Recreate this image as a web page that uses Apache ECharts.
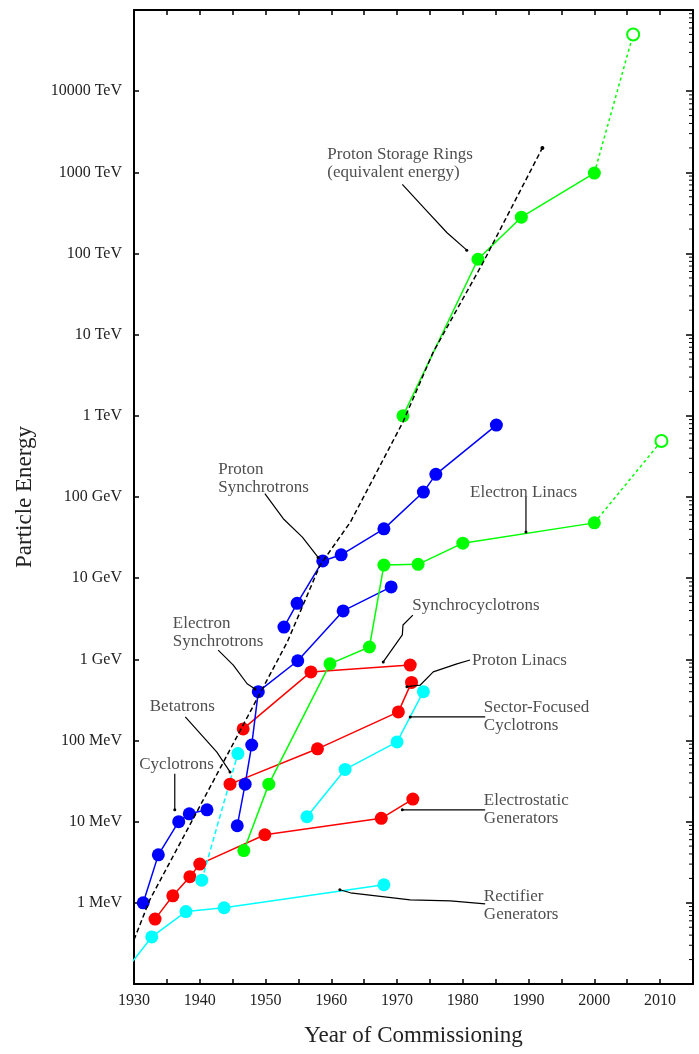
<!DOCTYPE html>
<html><head><meta charset="utf-8">
<script src="https://cdn.jsdelivr.net/npm/echarts@6/dist/echarts.min.js"></script>
<style>html,body{margin:0;padding:0;background:#fff}#chart{width:699px;height:1054px}</style>
</head><body><div id="chart"></div>
<script>
// ---- Data (energies in MeV) ----
const yearTicks = [1930, 1940, 1950, 1960, 1970, 1980, 1990, 2000, 2010];
const energyTickLabels = ['1 MeV','10 MeV','100 MeV','1 GeV','10 GeV','100 GeV','1 TeV','10 TeV','100 TeV','1000 TeV','10000 TeV'];

const rectifierYears = [1929.8, 1932.7, 1937.9, 1943.7, 1968.0];
const rectifierMeV   = [0.19, 0.38, 0.78, 0.87, 1.67];

const electrostaticYears = [1933.2, 1935.9, 1938.5, 1940.0, 1949.9, 1967.6, 1972.4];
const electrostaticMeV   = [0.63, 1.22, 2.1, 3.0, 6.9, 11, 19];

const cyclotronYears = [1931.4, 1933.7, 1936.8, 1938.4, 1941.1];
const cyclotronMeV   = [1.0, 3.9, 10, 12.5, 14];

const betatronYears = [1940.3, 1945.8];
const betatronMeV   = [1.9, 69];

const sectorCycYears = [1956.3, 1962.1, 1970.0, 1974.0];
const sectorCycMeV   = [11.5, 44, 96, 400];

const synchrocycYears = [1946.6, 1956.9, 1972.0];
const synchrocycMeV   = [139, 700, 850];

const protonLinacYears = [1944.6, 1957.9, 1970.2, 1972.2];
const protonLinacMeV   = [29, 79, 225, 520];

const electronSynchYears = [1945.7, 1946.9, 1947.9, 1948.9, 1954.9, 1961.8, 1969.1];
const electronSynchMeV   = [8.9, 29, 88, 400, 960, 3950, 7800];

const protonSynchYears = [1952.8, 1954.8, 1958.7, 1961.5, 1968.0, 1974.0, 1975.9, 1985.1];
const protonSynchMeV   = [2500, 4900, 16300, 19400, 40500, 115000, 190000, 770000];

const electronLinacYears = [1946.7, 1950.5, 1959.8, 1965.8, 1968.0, 1973.2, 1980.0, 2000.0];
const electronLinacMeV   = [4.4, 29, 880, 1420, 14500, 14800, 27000, 48000];
const electronLinacFutureYears = [2000.0, 2010.2];
const electronLinacFutureMeV   = [48000, 490000];

const storageRingYears = [1970.9, 1982.3, 1988.9, 2000.0];
const storageRingMeV   = [1.0e6, 8.5e7, 2.8e8, 9.8e8];
const storageRingFutureYears = [2000.0, 2005.9];
const storageRingFutureMeV   = [9.8e8, 5.0e10];

const trendYears = [1930, 1932.4, 1942.8, 1953.3, 1958.3, 1962.9, 1970.9, 1975.5, 1983.1, 1992.1];
const trendMeV   = [0.35, 1.09, 41, 1630, 14500, 49000, 8.4e5, 6.1e6, 7.8e7, 2.0e9];

// annotation texts and their anchor (left, middle) in data coordinates
const annotationTexts = ['Proton Storage Rings\n(equivalent energy)', 'Proton\nSynchrotrons', 'Electron Linacs',
  'Electron\nSynchrotrons', 'Synchrocyclotrons', 'Proton Linacs', 'Sector-Focused\nCyclotrons',
  'Betatrons', 'Cyclotrons', 'Electrostatic\nGenerators', 'Rectifier\nGenerators'];
const annotationYears = [1959.4, 1942.8, 1981.1, 1935.9, 1972.3, 1981.4, 1983.2, 1932.4, 1930.8, 1983.2, 1983.2];
const annotationMeV   = [1.3e9, 1.7e5, 1.15e5, 2130, 4550, 980, 195, 260, 51, 14, 0.92];

// leader lines
const leaderYears = [
  [1970.8, 1974.3, 1977.6, 1980.6],
  [1949.9, 1952.7, 1955.6, 1958.0],
  [1989.6, 1989.6],
  [1942.8, 1945.1, 1947.2, 1948.4],
  [1972.4, 1970.9, 1970.8, 1967.9],
  [1981.1, 1979.1, 1975.5, 1973.5, 1971.5],
  [1983.4, 1975.8, 1972.0],
  [1937.8, 1942.6, 1944.6],
  [1936.2, 1936.2],
  [1983.4, 1970.8],
  [1983.4, 1978.1, 1972.0, 1962.9, 1961.3]
];
const leaderMeV = [
  [7.1e8, 3.5e8, 1.8e8, 1.1e8],
  [1.1e5, 5.4e4, 3.2e4, 1.8e4],
  [1.0e5, 3.7e4],
  [1300, 850, 500, 430],
  [3500, 2650, 2000, 930],
  [980, 880, 700, 480, 460],
  [195, 195, 195],
  [195, 72, 41],
  [39, 14],
  [14, 14],
  [0.97, 1.06, 1.09, 1.33, 1.45]
];

const rightMinorTickValues = [];
for (let k = -1; k <= 10; k++) for (let m = 2; m <= 9; m++) rightMinorTickValues.push(m * Math.pow(10, k));

// ---- Chart ----
const FONT = 'Liberation Serif';
const BLUE = '#0000ff', RED = '#ff0000', GREEN = '#00ff00', CYAN = '#00ffff';
const pairs = (xs, ys) => xs.map((x, i) => [x, ys[i]]);

function dataSeries(name, xs, ys, color, dash) {
  return { type: 'line', name, data: pairs(xs, ys), symbol: 'circle', symbolSize: 13,
    itemStyle: { color }, lineStyle: { color, width: 1.5, type: dash || 'solid' }, z: 3 };
}
function futureSeries(name, xs, ys, color) {
  return { type: 'line', name, z: 3,
    data: xs.map((x, i) => ({ value: [x, ys[i]], symbol: i === xs.length - 1 ? 'emptyCircle' : 'none' })),
    symbolSize: 12, itemStyle: { color, borderColor: color, borderWidth: 1.5 },
    lineStyle: { color, width: 1.5, type: [3, 3] } };
}

const series = [
  dataSeries('Rectifier Generators', rectifierYears, rectifierMeV, CYAN),
  dataSeries('Electrostatic Generators', electrostaticYears, electrostaticMeV, RED),
  dataSeries('Cyclotrons', cyclotronYears, cyclotronMeV, BLUE),
  dataSeries('Betatrons', betatronYears, betatronMeV, CYAN, [5, 3]),
  dataSeries('Sector-Focused Cyclotrons', sectorCycYears, sectorCycMeV, CYAN),
  dataSeries('Synchrocyclotrons', synchrocycYears, synchrocycMeV, RED),
  dataSeries('Proton Linacs', protonLinacYears, protonLinacMeV, RED),
  dataSeries('Electron Synchrotrons', electronSynchYears, electronSynchMeV, BLUE),
  dataSeries('Proton Synchrotrons', protonSynchYears, protonSynchMeV, BLUE),
  dataSeries('Electron Linacs', electronLinacYears, electronLinacMeV, GREEN),
  futureSeries('Electron Linacs (future)', electronLinacFutureYears, electronLinacFutureMeV, GREEN),
  dataSeries('Proton Storage Rings', storageRingYears, storageRingMeV, GREEN),
  futureSeries('Proton Storage Rings (future)', storageRingFutureYears, storageRingFutureMeV, GREEN),
  { type: 'line', name: 'trend', z: 4,
    data: trendYears.map((x, i) => ({ value: [x, trendMeV[i]], symbol: i === trendYears.length - 1 ? 'circle' : 'none' })),
    symbolSize: 4, itemStyle: { color: '#000' }, lineStyle: { color: '#000', width: 1.5, type: [5, 3] } }
];

leaderYears.forEach((xs, j) => {
  series.push({ type: 'line', z: 5, silent: true,
    data: xs.map((x, i) => ({ value: [x, leaderMeV[j][i]], symbol: i === xs.length - 1 ? 'circle' : 'none' })),
    symbolSize: 3, itemStyle: { color: '#000' }, lineStyle: { color: '#000', width: 1.2 } });
});

series.push({ type: 'scatter', z: 6, symbolSize: 0, silent: true,
  data: annotationTexts.map((t, i) => ({ value: [annotationYears[i], annotationMeV[i]], label: { formatter: t } })),
  label: { show: true, position: 'right', distance: 0, align: 'left', verticalAlign: 'middle',
    fontFamily: FONT, fontSize: 17, lineHeight: 18, color: '#222' } });

series.push({ type: 'custom', z: 6, silent: true, clip: false,
  data: rightMinorTickValues.map(v => [2015, v]),
  encode: { x: 0, y: 1 },
  renderItem: (params, api) => {
    const p = api.coord([api.value(0), api.value(1)]);
    return { type: 'line', shape: { x1: p[0] - 4, y1: p[1], x2: p[0], y2: p[1] }, style: { stroke: '#000', lineWidth: 1 } };
  } });

const axisLineStyle = { show: true, lineStyle: { color: '#000', width: 2 } };
const option = {
  animation: false,
  backgroundColor: '#fff',
  grid: { left: 134, right: 6, top: 10, bottom: 70, containLabel: false },
  xAxis: [
    { type: 'value', position: 'bottom', min: 1930, max: 2015, interval: 5,
      axisLine: axisLineStyle, splitLine: { show: false },
      axisTick: { show: true, inside: true, length: 5, lineStyle: { color: '#000', width: 1.5 } },
      axisLabel: { margin: 9, fontFamily: FONT, fontSize: 16, color: '#222',
        formatter: v => (yearTicks.indexOf(v) >= 0 ? String(v) : '') },
      name: 'Year of Commissioning', nameLocation: 'middle', nameGap: 40,
      nameTextStyle: { fontFamily: FONT, fontSize: 23, color: '#222' } },
    { type: 'value', position: 'top', min: 1930, max: 2015, interval: 5,
      axisLine: axisLineStyle, splitLine: { show: false },
      axisTick: { show: true, inside: true, length: 5, lineStyle: { color: '#000', width: 1.5 } },
      axisLabel: { show: false } }
  ],
  yAxis: [
    { type: 'log', logBase: 10, min: 0.1, max: 1e11, interval: 1,
      axisLine: axisLineStyle, splitLine: { show: false },
      axisTick: { show: true, inside: true, length: 5, lineStyle: { color: '#000', width: 1.5 } },
      axisLabel: { margin: 12, fontFamily: FONT, fontSize: 16, color: '#222',
        formatter: v => { const k = Math.round(Math.log10(v)); return energyTickLabels[k] || ''; } },
      name: 'Particle Energy', nameLocation: 'middle', nameGap: 98, nameRotate: 90,
      nameTextStyle: { fontFamily: FONT, fontSize: 23, color: '#222' } },
    { type: 'log', logBase: 10, min: 0.1, max: 1e11, interval: 1, position: 'right',
      axisLine: axisLineStyle, splitLine: { show: false },
      axisTick: { show: true, inside: true, length: 7, lineStyle: { color: '#000', width: 1.5 } },
      axisLabel: { show: false } }
  ],
  series
};

const chart = echarts.init(document.getElementById('chart'), null, { renderer: 'canvas' });
chart.setOption(option);
</script></body></html>
